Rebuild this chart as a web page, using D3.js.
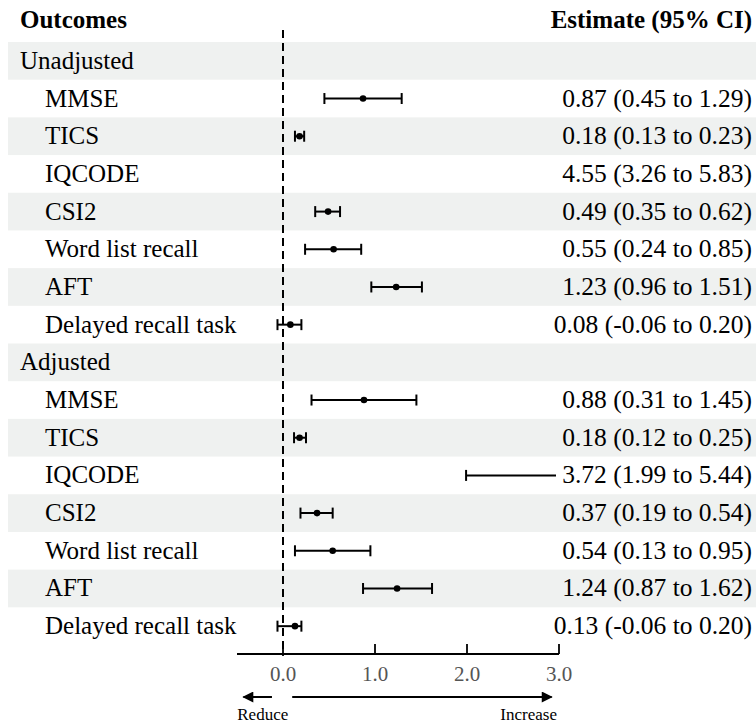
<!DOCTYPE html>
<html>
<head>
<meta charset="utf-8">
<script src="https://cdn.jsdelivr.net/npm/d3@7"></script>
<style>
  body { margin: 0; background: #fff; }
  svg { font-family: "Liberation Serif", "DejaVu Serif", serif; }
</style>
</head>
<body>
<svg id="chart" width="756" height="723"></svg>
<script>
// rows of the table, in order (groups + outcomes)
var rowLabels = ["Unadjusted", "MMSE", "TICS", "IQCODE", "CSI2", "Word list recall", "AFT", "Delayed recall task",
                 "Adjusted", "MMSE", "TICS", "IQCODE", "CSI2", "Word list recall", "AFT", "Delayed recall task"];
var isGroup = [true, false, false, false, false, false, false, false,
               true, false, false, false, false, false, false, false];
var estimate = [null, 0.87, 0.18, 4.55, 0.49, 0.55, 1.23, 0.08,
                null, 0.88, 0.18, 3.72, 0.37, 0.54, 1.24, 0.13];
var lower = [null, 0.45, 0.13, 3.26, 0.35, 0.24, 0.96, -0.06,
             null, 0.31, 0.12, 1.99, 0.19, 0.13, 0.87, -0.06];
var upper = [null, 1.29, 0.23, 5.83, 0.62, 0.85, 1.51, 0.20,
             null, 1.45, 0.25, 5.44, 0.54, 0.95, 1.62, 0.20];
var ticks = [0, 1, 2, 3];

var svg = d3.select("#chart");

// plain hyphen for negatives, like the original table
function fmt(v) { return v.toFixed(2); }

// scales
var x = d3.scaleLinear().domain([-0.5, 3]).range([237, 559]);
var y = d3.scaleBand().domain(d3.range(rowLabels.length)).range([42, 645]);

// shaded bands on alternating rows
svg.selectAll("rect.band")
    .data(d3.range(rowLabels.length).filter(function(i) { return i % 2 == 0; }))
    .enter()
    .append("rect")
    .attr("class", "band")
    .attr("x", 8)
    .attr("width", 748)
    .attr("y", function(i) { return y(i); })
    .attr("height", y.bandwidth())
    .attr("fill", "#eff1f0");

// headers
svg.append("text").attr("x", 20).attr("y", 28)
    .attr("font-size", 25).attr("font-weight", "bold").text("Outcomes");
svg.append("text").attr("x", 752).attr("y", 28).attr("text-anchor", "end")
    .attr("font-size", 25).attr("font-weight", "bold").text("Estimate (95% CI)");

// row labels
svg.selectAll("text.lab")
    .data(rowLabels)
    .enter()
    .append("text")
    .attr("class", "lab")
    .attr("x", function(d, i) { return isGroup[i] ? 20 : 45; })
    .attr("y", function(d, i) { return y(i) + y.bandwidth() / 2 + 8; })
    .attr("font-size", 25)
    .text(function(d) { return d; });

// estimate text
svg.selectAll("text.est")
    .data(d3.range(rowLabels.length).filter(function(i) { return !isGroup[i]; }))
    .enter()
    .append("text")
    .attr("class", "est")
    .attr("x", 752)
    .attr("y", function(i) { return y(i) + y.bandwidth() / 2 + 8; })
    .attr("text-anchor", "end")
    .attr("font-size", 25.5)
    .text(function(i) { return fmt(estimate[i]) + " (" + fmt(lower[i]) + " to " + fmt(upper[i]) + ")"; });

// reference line at zero
svg.append("line")
    .attr("x1", x(0)).attr("x2", x(0))
    .attr("y1", 30).attr("y2", 652)
    .attr("stroke", "#000").attr("stroke-width", 2)
    .attr("stroke-dasharray", "8,5");

// clip the intervals to the axis range
svg.append("clipPath").attr("id", "plotclip")
    .append("rect")
    .attr("x", x(-0.5)).attr("y", 0)
    .attr("width", x(3) - x(-0.5) - 3).attr("height", 723);

var pts = d3.range(rowLabels.length).filter(function(i) { return !isGroup[i]; });
var g = svg.append("g").attr("clip-path", "url(#plotclip)");

var rows = g.selectAll("g.ci")
    .data(pts)
    .enter()
    .append("g")
    .attr("class", "ci")
    .attr("transform", function(i) { return "translate(0," + (y(i) + y.bandwidth() / 2) + ")"; });

rows.append("line")
    .attr("x1", function(i) { return x(lower[i]); })
    .attr("x2", function(i) { return x(upper[i]); })
    .attr("stroke", "#000").attr("stroke-width", 2);

rows.append("line")
    .attr("x1", function(i) { return x(lower[i]); })
    .attr("x2", function(i) { return x(lower[i]); })
    .attr("y1", -5.5).attr("y2", 5.5)
    .attr("stroke", "#000").attr("stroke-width", 2);

rows.append("line")
    .attr("x1", function(i) { return x(upper[i]); })
    .attr("x2", function(i) { return x(upper[i]); })
    .attr("y1", -5.5).attr("y2", 5.5)
    .attr("stroke", "#000").attr("stroke-width", 2);

rows.append("circle")
    .attr("cx", function(i) { return x(estimate[i]); })
    .attr("r", 3.3)
    .attr("fill", "#000");

// x axis
var axis = svg.append("g").attr("transform", "translate(0,654)");
axis.append("line")
    .attr("x1", x(-0.5)).attr("x2", x(3))
    .attr("stroke", "#000").attr("stroke-width", 1.8);
axis.selectAll("line.tick")
    .data(ticks)
    .enter()
    .append("line")
    .attr("class", "tick")
    .attr("x1", function(d) { return x(d); })
    .attr("x2", function(d) { return x(d); })
    .attr("y1", -10).attr("y2", function(d) { return d == 0 ? 2 : 0; })
    .attr("stroke", "#000").attr("stroke-width", 1.8);
axis.selectAll("text.tick")
    .data(ticks)
    .enter()
    .append("text")
    .attr("class", "tick")
    .attr("x", function(d) { return x(d); })
    .attr("y", 27)
    .attr("text-anchor", "middle")
    .attr("font-size", 21)
    .attr("fill", "#555")
    .text(function(d) { return d3.format(".1f")(d); });

// direction arrows
var defs = svg.append("defs");
defs.append("marker")
    .attr("id", "arrow")
    .attr("viewBox", "0 0 10 10")
    .attr("refX", 9).attr("refY", 5)
    .attr("markerWidth", 8).attr("markerHeight", 5.5)
    .attr("markerUnits", "strokeWidth")
    .attr("orient", "auto")
    .append("path")
    .attr("d", "M0,0 L10,5 L0,10 z")
    .attr("fill", "#000");

svg.append("line")
    .attr("x1", x(-0.12)).attr("x2", x(-0.43))
    .attr("y1", 697).attr("y2", 697)
    .attr("stroke", "#000").attr("stroke-width", 2)
    .attr("marker-end", "url(#arrow)");
svg.append("line")
    .attr("x1", x(0.1)).attr("x2", x(2.92))
    .attr("y1", 697).attr("y2", 697)
    .attr("stroke", "#000").attr("stroke-width", 2)
    .attr("marker-end", "url(#arrow)");

svg.append("text").attr("x", x(-0.22)).attr("y", 720)
    .attr("text-anchor", "middle").attr("font-size", 17).text("Reduce");
svg.append("text").attr("x", x(2.67)).attr("y", 720)
    .attr("text-anchor", "middle").attr("font-size", 17).text("Increase");
</script>
</body>
</html>
